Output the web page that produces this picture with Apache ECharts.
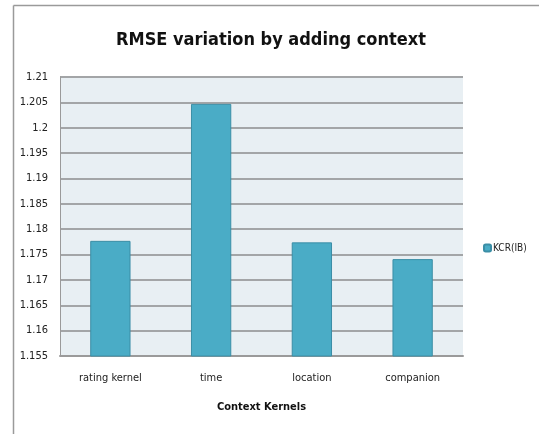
<!DOCTYPE html>
<html>
<head>
<meta charset="utf-8">
<script src="https://cdn.jsdelivr.net/npm/echarts@6/dist/echarts.min.js"></script>
<style>
  html, body { margin: 0; padding: 0; background: #fff; }
  #chart { width: 539px; height: 434px; }
</style>
</head>
<body>
<div id="chart"></div>
<script>
var categories = ['rating kernel', 'time', 'location', 'companion']
var kcrValues = [1.1777, 1.2047, 1.1774, 1.1741]
var seriesName = 'KCR(IB)'

var font = '"DejaVu Sans Condensed", "Liberation Sans Narrow", sans-serif'

var chart = echarts.init(document.getElementById('chart'))
chart.setOption({
  animation: false,
  title: {
    text: 'RMSE variation by adding context',
    left: 266,
    textAlign: 'center',
    top: 26,
    textStyle: {
      fontFamily: font,
      fontSize: 18,
      fontWeight: 'bold',
      color: '#111'
    }
  },
  graphic: [
    { type: 'line', shape: { x1: 13.5, y1: 5.5, x2: 539, y2: 5.5 }, style: { stroke: '#9a9a9a', lineWidth: 1.5 } },
    { type: 'line', shape: { x1: 13.5, y1: 5.5, x2: 13.5, y2: 434 }, style: { stroke: '#9a9a9a', lineWidth: 1.5 } }
  ],
  legend: {
    data: [seriesName],
    orient: 'vertical',
    left: 478,
    top: 238,
    itemWidth: 7,
    itemHeight: 7,
    itemGap: 2,
    textStyle: {
      fontFamily: font,
      fontSize: 10,
      color: '#222',
      padding: [0, 0, 0, -3]
    }
  },
  grid: {
    left: 60,
    right: 76,
    top: 77,
    bottom: 78,
    show: true,
    backgroundColor: '#e8eff3',
    borderWidth: 0
  },
  xAxis: {
    type: 'category',
    data: categories,
    name: 'Context Kernels',
    nameLocation: 'middle',
    nameGap: 46,
    nameTextStyle: {
      fontFamily: font,
      fontSize: 11,
      fontWeight: 'bold',
      color: '#111'
    },
    axisLine: { lineStyle: { color: '#9a9a9a', width: 2 } },
    axisTick: { show: false },
    axisLabel: {
      fontFamily: font,
      fontSize: 11,
      color: '#222',
      margin: 17
    }
  },
  yAxis: {
    type: 'value',
    min: 1.155,
    max: 1.21,
    interval: 0.005,
    axisLine: { show: true, lineStyle: { color: '#9a9a9a', width: 1 } },
    axisTick: { show: false },
    axisLabel: {
      fontFamily: font,
      fontSize: 11,
      color: '#222',
      margin: 12,
      formatter: function (v) { return String(parseFloat(v.toFixed(3))) }
    },
    splitLine: { lineStyle: { color: '#a3a5a7', width: 2 } }
  },
  series: [{
    name: seriesName,
    type: 'bar',
    data: kcrValues,
    barWidth: '40%',
    itemStyle: {
      color: '#4aacc6',
      borderColor: '#3b8ea6',
      borderWidth: 1
    }
  }]
})
</script>
</body>
</html>
